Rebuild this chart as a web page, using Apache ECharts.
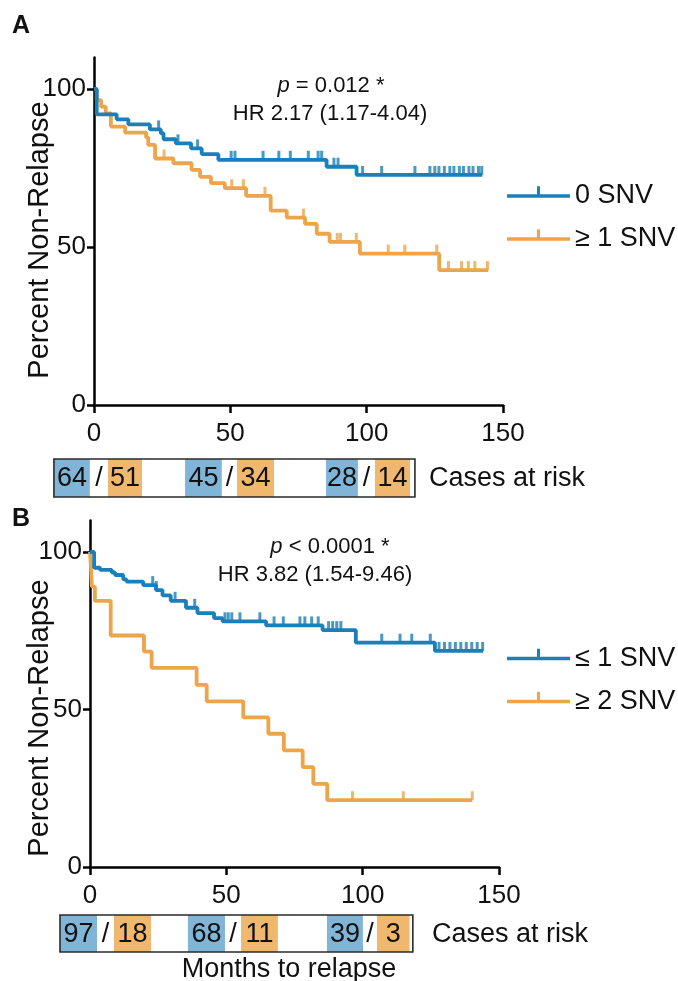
<!DOCTYPE html>
<html><head><meta charset="utf-8">
<script src="https://cdn.jsdelivr.net/npm/echarts@6/dist/echarts.min.js"></script>
<style>html,body{margin:0;padding:0;background:#fff}#c{width:678px;height:981px}</style>
</head><body><div id="c"></div>
<script>
// ---------------- DATA ----------------
const xTicks = [0, 50, 100, 150];
const yTicks = [0, 50, 100];
const riskTimes = [0, 50, 100];

// Panel A: 0 SNV
const A_snv0_time = [0, 1, 8.3, 12.6, 20.5, 24.5, 25.5, 30, 35.6, 39.5, 45.6, 85.3, 96.3, 142.4];
const A_snv0_surv = [100, 92, 90.4, 88.8, 87.2, 86.0, 84.1, 82.8, 81.2, 79.4, 77.6, 75.4, 72.8, 72.8];
const A_snv0_censor = [23.7, 30.8, 38, 50.3, 51.7, 62, 67.8, 72, 78.6, 82.2, 83.5, 88, 89.5, 98.5, 105.5, 117.7,
  123.2, 125, 126.5, 128.5, 130.5, 132, 134, 135.5, 137.5, 139, 141, 142.2];
// Panel A: >= 1 SNV
const A_snv1_time = [0, 1, 2.6, 4.3, 6.2, 11.4, 19.1, 19.9, 22.4, 29.1, 35.8, 38.9, 42.9, 48, 55.8, 64.8, 70.7, 77.4, 81.7, 86.4, 97.5, 126.6, 144.6];
const A_snv1_surv = [100, 96.5, 94.4, 92.3, 88.1, 86.2, 84.7, 82.3, 78, 76.5, 74.4, 72.2, 70.2, 68.6, 66.2, 61.5, 59.3, 57.3, 54.2, 51.6, 47.9, 42.7, 42.7];
const A_snv1_censor = [25.7, 50.5, 54.8, 62.7, 76.8, 89.2, 90.4, 96.2, 107.9, 114, 125.7, 130, 134.8, 137.3, 139.7, 144.3];
const A_risk_snv0 = [64, 45, 28];
const A_risk_snv1 = [51, 34, 14];

// Panel B: <= 1 SNV
const B_le1_time = [0, 1.5, 3.7, 8, 9.2, 12.2, 13.4, 19.5, 24.2, 26.6, 29.6, 35.2, 39.4, 45.5, 48.6, 64.6, 85.3, 97.5, 126.5, 144.2];
const B_le1_surv = [100, 95, 94.3, 93.5, 92.7, 91.3, 90.6, 89.5, 87.9, 86.2, 84.5, 82.3, 80.6, 79.0, 78.0, 76.7, 75.2, 71.2, 68.6, 68.6];
const B_le1_censor = [23, 24.3, 31.2, 38.4, 49.5, 50.7, 52, 55, 62.3, 67.5, 70.9, 77, 78.8, 81.3, 83.7, 87.5, 89, 90.5, 92,
  107, 113.7, 118, 124.8, 128, 130, 132, 134, 136, 138, 140, 142, 144];
// Panel B: >= 2 SNV
const B_ge2_time = [0, 0.4, 0.7, 1.8, 7.6, 19.8, 22.6, 39.1, 42.8, 56.2, 65.4, 71.1, 78, 81.9, 87, 140.2];
const B_ge2_surv = [100, 94.4, 89, 84.5, 73.5, 68.4, 63.2, 57.8, 52.6, 47.5, 42.3, 37, 31.7, 26.4, 21.2, 21.2];
const B_ge2_censor = [96.3, 114.9, 140.2];
const B_risk_le1 = [97, 68, 39];
const B_risk_ge2 = [18, 11, 3];

// ---------------- STYLE / LAYOUT ----------------
const FONT = '"Liberation Sans", Arial, sans-serif';
const BLUE = '#1b80b9', ORANGE = '#eca54a';
const CELL_BLUE = '#80b5d8', CELL_ORANGE = '#f0b76f';
// risk-table cell spans, in months (layout only)
const riskLayoutA = { box: [-14.7, 117.7], blue: [[-14.7, -1.5], [33.4, 46.9], [85.1, 96.8]], orange: [[5.1, 17.6], [52.4, 66], [103, 115.9]] };
const riskLayoutB = { box: [-11, 118.4], blue: [[-11, 2.6], [35.9, 49.5], [86.9, 100.1]], orange: [[8.8, 22.4], [55.4, 68.9], [105.2, 117.2]] };

function zip(t, s) { return t.map((v, i) => [v, s[i]]); }
function survAt(t, times, surv) { let v = surv[0]; for (let i = 0; i < times.length; i++) { if (times[i] <= t) v = surv[i]; } return v; }
function censorData(c, times, surv) { return c.map(t => [t, survAt(t, times, surv)]); }

function mainGrid(idx) {
  return {
    x: {
      gridIndex: idx, type: 'value', min: 0, max: 150, interval: 50,
      axisLine: { show: true, lineStyle: { color: '#000', width: 2.5 } },
      axisTick: { show: true, length: 8, lineStyle: { color: '#000', width: 2.5 }, customValues: xTicks },
      axisLabel: { customValues: xTicks, fontSize: 26, color: '#111', fontFamily: FONT, margin: 16 },
      splitLine: { show: false }
    },
    y: {
      gridIndex: idx, type: 'value', min: 0, max: 110,
      axisLine: { show: true, lineStyle: { color: '#000', width: 2.5 } },
      axisTick: { show: true, length: 7, lineStyle: { color: '#000', width: 2.5 }, customValues: yTicks },
      axisLabel: { customValues: yTicks, fontSize: 26, color: '#111', fontFamily: FONT, margin: 8 },
      splitLine: { show: false }
    }
  };
}
const gA = mainGrid(0), gB = mainGrid(1);

function riskX(idx) {
  return { gridIndex: idx, type: 'value', min: 0, max: 150, position: 'top',
    axisLine: { show: false }, axisLabel: { show: false }, splitLine: { show: false },
    axisTick: { show: true, length: 7, lineStyle: { color: '#000', width: 2.5 }, customValues: riskTimes } };
}
function riskY(idx) { return { gridIndex: idx, type: 'value', min: 0, max: 1, show: false }; }

function riskData(layout, n0, n1) {
  const d = [];
  for (let i = 0; i < riskTimes.length; i++) {
    d.push([layout.blue[i][0], layout.blue[i][1], 0, n0[i]]);
    d.push([layout.orange[i][0], layout.orange[i][1], 1, n1[i]]);
    d.push([layout.blue[i][1], layout.orange[i][0], 2, 0]);
  }
  d.push([layout.box[0], layout.box[1], 3, 0]);
  return d;
}
function renderRisk(params, api) {
  const s = api.value(0), e = api.value(1), type = api.value(2), num = api.value(3);
  const p0 = api.coord([s, 1]), p1 = api.coord([e, 0]);
  const x = p0[0], y = p0[1], w = p1[0] - p0[0], h = p1[1] - p0[1];
  if (type === 3) {
    return { type: 'rect', z2: 10, shape: { x: x, y: y, width: w, height: h }, style: { fill: 'none', stroke: '#2a2a2a', lineWidth: 1.6 } };
  }
  const fill = type === 0 ? CELL_BLUE : (type === 1 ? CELL_ORANGE : '#fff');
  const txt = type === 2 ? '/' : String(num);
  return { type: 'group', children: [
    { type: 'rect', shape: { x: x, y: y, width: w, height: h }, style: { fill: fill } },
    { type: 'text', z2: 5, style: { x: x + w / 2, y: y + h / 2 + 1, text: txt, align: 'center', verticalAlign: 'middle', font: '27px ' + FONT, fill: '#111' } }
  ] };
}

function kmSeries(name, xi, time, surv, censor, color, z) {
  return [
    { name: name, type: 'line', xAxisIndex: xi, yAxisIndex: xi, data: zip(time, surv), step: 'end', showSymbol: false, symbol: 'none',
      lineStyle: { color: color, width: 3.8 }, itemStyle: { color: color }, z: z, silent: true, animation: false },
    { name: name + ' censored', type: 'scatter', xAxisIndex: xi, yAxisIndex: xi, data: censorData(censor, time, surv),
      symbol: 'rect', symbolSize: [3, 9], symbolOffset: [0, -4.5], itemStyle: { color: color }, z: z, silent: true, animation: false }
  ];
}

const legendIcon = 'path://M0,8 L63,8 L63,11.5 L0,11.5 Z M30,0 L33,0 L33,8 L30,8 Z M0,19.5 L0.01,19.5 L0,19.5 Z';
function legend(names, top) {
  return { data: names, orient: 'vertical', left: 502, top: top, itemWidth: 63, itemHeight: 19.5, itemGap: 13,
    icon: legendIcon, itemStyle: { borderWidth: 0 }, selectedMode: false,
    textStyle: { fontSize: 27, fontFamily: FONT, color: '#111', lineHeight: 30 } };
}

function txt(text, x, y, size, opts) {
  return Object.assign({ type: 'text', x: x, y: y, silent: true,
    style: Object.assign({ text: text, font: size + 'px ' + FONT, fill: '#111', align: 'center', verticalAlign: 'middle' }, opts || {}) });
}

const option = {
  animation: false,
  backgroundColor: '#fff',
  grid: [
    { left: 94, top: 57.4, width: 409, height: 347.6, outerBoundsMode: 'none', containLabel: false },
    { left: 90, top: 520.5, width: 409, height: 346.5, outerBoundsMode: 'none', containLabel: false },
    { left: 94, top: 459, width: 409, height: 38, outerBoundsMode: 'none', containLabel: false },
    { left: 90, top: 915, width: 409, height: 37, outerBoundsMode: 'none', containLabel: false }
  ],
  xAxis: [gA.x, gB.x, riskX(2), riskX(3)],
  yAxis: [gA.y, gB.y, riskY(2), riskY(3)],
  legend: [legend(['0 SNV', '≥ 1 SNV'], 176), legend(['≤ 1 SNV', '≥ 2 SNV'], 638.5)],
  series: [].concat(
    kmSeries('≥ 1 SNV', 0, A_snv1_time, A_snv1_surv, A_snv1_censor, ORANGE, 2),
    kmSeries('0 SNV', 0, A_snv0_time, A_snv0_surv, A_snv0_censor, BLUE, 3),
    kmSeries('≥ 2 SNV', 1, B_ge2_time, B_ge2_surv, B_ge2_censor, ORANGE, 2),
    kmSeries('≤ 1 SNV', 1, B_le1_time, B_le1_surv, B_le1_censor, BLUE, 3),
    [
      { type: 'custom', xAxisIndex: 2, yAxisIndex: 2, data: riskData(riskLayoutA, A_risk_snv0, A_risk_snv1), renderItem: renderRisk, clip: false, silent: true },
      { type: 'custom', xAxisIndex: 3, yAxisIndex: 3, data: riskData(riskLayoutB, B_risk_le1, B_risk_ge2), renderItem: renderRisk, clip: false, silent: true }
    ]
  ),
  graphic: [
    txt('A', 12, 26, 25, { font: 'bold 25px ' + FONT, align: 'left' }),
    txt('B', 12, 519, 25, { font: 'bold 25px ' + FONT, align: 'left' }),
    txt('{i|p} = 0.012 *', 331, 86, 22, { rich: { i: { fontStyle: 'italic', font: 'italic 22px ' + FONT, fill: '#111' } } }),
    txt('HR 2.17 (1.17-4.04)', 330, 114, 22),
    txt('{i|p} < 0.0001 *', 330, 547, 22, { rich: { i: { fontStyle: 'italic', font: 'italic 22px ' + FONT, fill: '#111' } } }),
    txt('HR 3.82 (1.54-9.46)', 315, 575, 22),
    txt('Percent Non-Relapse', 40, 240, 29, {}),
    txt('Percent Non-Relapse', 40, 718, 29, {}),
    txt('Cases at risk', 429, 479, 27, { align: 'left' }),
    txt('Cases at risk', 432, 935, 27, { align: 'left' }),
    txt('Months to relapse', 289, 969.5, 27)
  ].map((g, i) => { if (i === 6 || i === 7) g.rotation = Math.PI / 2; return g; })
};

const chart = echarts.init(document.getElementById('c'), null, { renderer: 'canvas' });
chart.setOption(option);
</script></body></html>
